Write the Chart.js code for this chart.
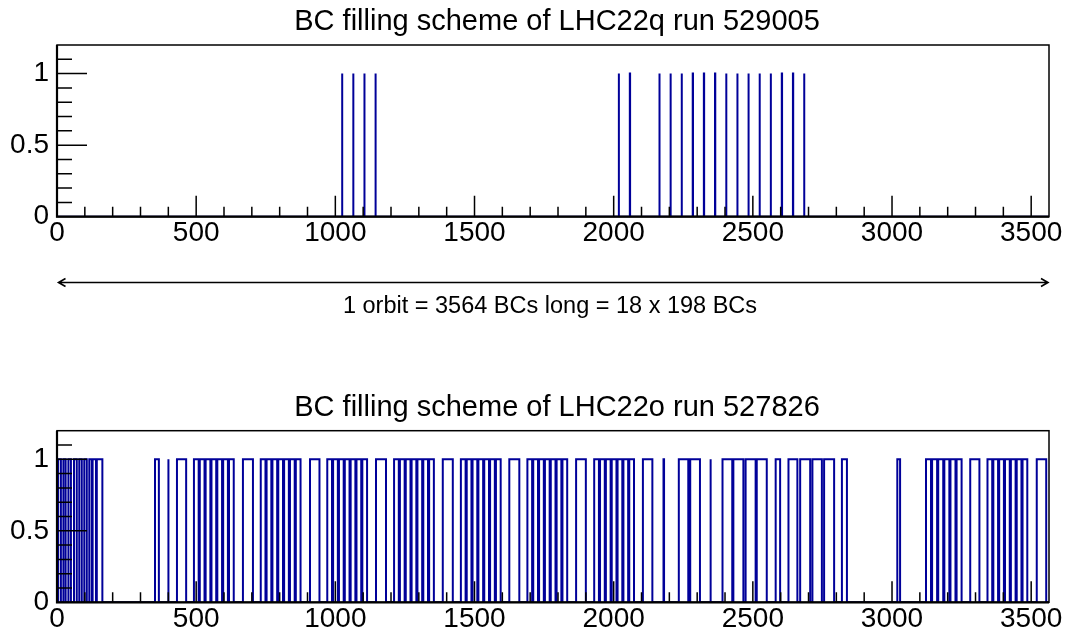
<!DOCTYPE html>
<html>
<head>
<meta charset="utf-8">
<script src="https://cdn.jsdelivr.net/npm/chart.js@4.4.1/dist/chart.umd.min.js"></script>
<style>
  html, body { margin: 0; padding: 0; background: #fff; }
  #page { position: relative; width: 1067px; height: 638px; overflow: hidden; background: #fff; }
  .pane { position: absolute; left: 0; }
</style>
</head>
<body>
<div id="page">
  <div class="pane" style="top:0px"><canvas id="runQ" width="1067" height="320"></canvas></div>
  <div class="pane" style="top:320px"><canvas id="runO" width="1067" height="318"></canvas></div>
</div>
<script>
// Bunch-crossing axis: one LHC orbit
const ORBIT_BCS = 3564;
const xTickLabels = [0, 500, 1000, 1500, 2000, 2500, 3000, 3500];
const yTickLabels = [0, 0.5, 1];

const titleQ = 'BC filling scheme of LHC22q run 529005';
const titleO = 'BC filling scheme of LHC22o run 527826';
const orbitNote = '1 orbit = 3564 BCs long = 18 x 198 BCs';

// LHC22q run 529005: filled bunch crossings (one BC each)
const bunchesQ = [1024, 1064, 1104, 1144,
                  2018, 2058,
                  2164, 2204, 2244, 2284, 2324, 2364, 2404, 2444,
                  2484, 2524, 2564, 2604, 2644, 2684];

// LHC22o run 527826: filled BC ranges (first BC, BC after last)
const trainStartsO = [
  4, 23, 41, 61, 80, 98, 116, 128, 143,
  352, 399, 431,
  492, 513, 534, 555, 576, 597, 618, 668,
  732, 753, 774, 795, 816, 837, 858, 909,
  971, 992, 1013, 1034, 1055, 1076, 1097, 1146,
  1211, 1232, 1253, 1274, 1295, 1316, 1337, 1386,
  1451, 1472, 1493, 1514, 1535, 1556, 1577, 1625,
  1690, 1711, 1732, 1753, 1774, 1795, 1816, 1865,
  1930, 1951, 1972, 1993, 2014, 2035, 2056, 2105,
  2179, 2234, 2275, 2347,
  2391, 2430, 2474, 2514, 2582,
  2628, 2670, 2714, 2756, 2820,
  3019,
  3122, 3144, 3166, 3188, 3210, 3232, 3281,
  3343, 3364, 3385, 3406, 3427, 3448, 3469, 3520
];
const trainEndsO = [
  14, 31, 50, 71, 89, 107, 125, 140, 163,
  366, 401, 464,
  509, 530, 551, 572, 593, 614, 635, 704,
  749, 770, 791, 812, 833, 854, 875, 943,
  988, 1009, 1030, 1051, 1072, 1093, 1114, 1182,
  1228, 1249, 1270, 1291, 1312, 1333, 1354, 1422,
  1468, 1489, 1510, 1531, 1552, 1573, 1594, 1661,
  1707, 1728, 1749, 1770, 1791, 1812, 1833, 1900,
  1947, 1968, 1989, 2010, 2031, 2052, 2073, 2139,
  2181, 2268, 2310, 2349,
  2426, 2466, 2510, 2550, 2598,
  2660, 2706, 2748, 2792, 2838,
  3029,
  3140, 3162, 3184, 3206, 3228, 3250, 3314,
  3360, 3381, 3402, 3423, 3444, 3465, 3486, 3554
];

const FONT = '"Liberation Sans", Arial, Helvetica, sans-serif';
const HIST_COLOR = '#000099';

// Histogram outline (ROOT "HIST" style): baseline at 0, step up to 1 over each filled range
function outline(starts, ends) {
  const pts = [{ x: 0, y: 0 }];
  for (let i = 0; i < starts.length; i++) {
    pts.push({ x: starts[i], y: 0 }, { x: starts[i], y: 1 },
             { x: ends[i], y: 1 }, { x: ends[i], y: 0 });
  }
  pts.push({ x: ORBIT_BCS, y: 0 });
  return pts;
}

// Frame, inward tick marks, pad title and the orbit arrow
const rootFrame = {
  id: 'rootFrame',
  afterDraw(chart, args, opts) {
    const { ctx, chartArea: a, scales: { x, y } } = chart;
    ctx.save();
    ctx.strokeStyle = '#000';
    ctx.lineCap = 'butt';

    // y ticks every 0.1, long at 0.5 and 1
    ctx.lineWidth = 1.5;
    ctx.beginPath();
    for (let k = 1; k <= 11; k++) {
      const py = y.getPixelForValue(k / 10);
      const len = (k % 5 === 0) ? 30 : 15;
      ctx.moveTo(a.left, py);
      ctx.lineTo(a.left + len, py);
    }
    // x ticks every 100 BCs, long at multiples of 500
    for (let k = 1; k <= 35; k++) {
      const px = x.getPixelForValue(k * 100);
      const len = (k % 5 === 0) ? 21 : 10;
      ctx.moveTo(px, a.bottom);
      ctx.lineTo(px, a.bottom - len);
    }
    ctx.stroke();

    // frame
    ctx.lineWidth = 1.5;
    ctx.strokeRect(a.left, a.top, a.right - a.left, a.bottom - a.top);
    ctx.lineWidth = 2.2;
    ctx.beginPath();
    ctx.moveTo(a.left, a.top);
    ctx.lineTo(a.left, a.bottom);
    ctx.lineTo(a.right, a.bottom);
    ctx.stroke();

    // title
    ctx.fillStyle = '#000';
    ctx.font = opts.titleSize + 'px ' + FONT;
    ctx.textAlign = 'center';
    ctx.textBaseline = 'middle';
    ctx.fillText(opts.title, opts.titleX, opts.titleY);

    // orbit length arrow
    if (opts.arrowY) {
      const x0 = x.getPixelForValue(0) + 1.5;
      const x1 = x.getPixelForValue(ORBIT_BCS) - 1;
      const ay = opts.arrowY;
      ctx.lineWidth = 1.6;
      ctx.beginPath();
      ctx.moveTo(x0, ay); ctx.lineTo(x1, ay);
      ctx.moveTo(x0 + 7, ay - 4); ctx.lineTo(x0, ay); ctx.lineTo(x0 + 7, ay + 4);
      ctx.moveTo(x1 - 7, ay - 4); ctx.lineTo(x1, ay); ctx.lineTo(x1 - 7, ay + 4);
      ctx.stroke();
      ctx.font = opts.noteSize + 'px ' + FONT;
      ctx.fillText(opts.note, opts.noteX, opts.noteY);
    }
    ctx.restore();
  }
};

function makeChart(id, points, frame) {
  return new Chart(document.getElementById(id), {
    type: 'scatter',
    data: {
      datasets: [{
        data: points,
        showLine: true,
        borderColor: HIST_COLOR,
        borderWidth: 2,
        pointRadius: 0,
        pointHoverRadius: 0,
        fill: false,
        tension: 0
      }]
    },
    options: {
      responsive: false,
      animation: false,
      events: [],
      layout: { padding: { top: frame.top, right: 18, left: 0, bottom: 0 } },
      plugins: {
        legend: { display: false },
        tooltip: { enabled: false },
        title: { display: false },
        rootFrame: frame
      },
      scales: {
        x: {
          type: 'linear', min: 0, max: ORBIT_BCS,
          grid: { display: false, drawTicks: false },
          border: { display: false },
          afterFit: s => { s.height = frame.xHeight; },
          afterBuildTicks: s => { s.ticks = xTickLabels.map(v => ({ value: v })); },
          ticks: {
            autoSkip: false, maxRotation: 0, padding: 0,
            color: '#000', font: { family: FONT, size: frame.labelSize },
            callback: v => String(v)
          }
        },
        y: {
          type: 'linear', min: 0, max: 1.2,
          grid: { display: false, drawTicks: false },
          border: { display: false },
          afterFit: s => { s.width = 57; },
          afterBuildTicks: s => { s.ticks = yTickLabels.map(v => ({ value: v })); },
          ticks: {
            autoSkip: false, padding: 8,
            color: '#000', font: { family: FONT, size: frame.labelSize },
            callback: v => String(v)
          }
        }
      }
    },
    plugins: [rootFrame]
  });
}

makeChart('runQ',
  outline(bunchesQ, bunchesQ.map(b => b + 1)),
  { top: 45, xHeight: 103.3, labelSize: 28, title: titleQ, titleSize: 29, titleX: 557, titleY: 22,
    arrowY: 282.5, note: orbitNote, noteSize: 23.5, noteX: 550, noteY: 307 });

makeChart('runO',
  outline(trainStartsO, trainEndsO),
  { top: 110.7, xHeight: 35.7, labelSize: 28, title: titleO, titleSize: 29, titleX: 557, titleY: 408 - 320 });
</script>
</body>
</html>
